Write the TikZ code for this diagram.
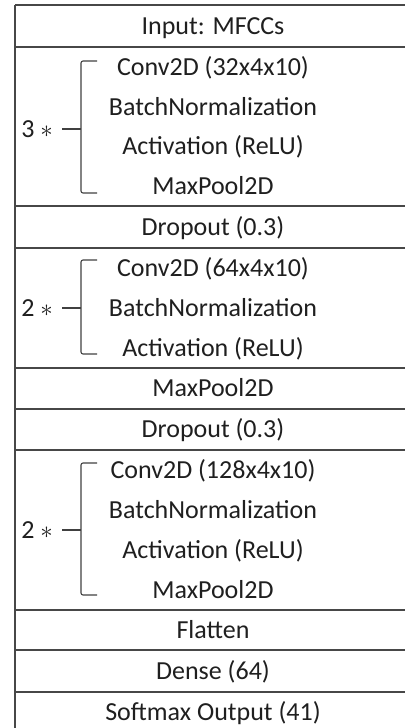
\documentclass[tikz,border=0pt]{standalone}
\usepackage{fontspec}
\setmainfont{Carlito}
\usetikzlibrary{calc}

\begin{document}
\begin{tikzpicture}[
        x=1pt, y=-1pt,
        row line/.style={line width=1.4pt, draw=black!72},
        layer/.style={font=\fontsize{26}{30}\selectfont, text=black!88, inner sep=0pt, anchor=base},
        repeat label/.style={font=\fontsize{26}{30}\selectfont, text=black!88, inner sep=0pt, anchor=base east},
        bracket/.style={line width=1.1pt, draw=black!75, rounded corners=2pt}
    ]
    \useasboundingbox (0,0) rectangle (405,728);

    % table frame: left border and row separators
    \draw[row line] (15,5) -- (15,728);
    \foreach \y in {5,47,206,248,368,409,450,610,650,692} {
        \draw[row line] (15,\y) -- (405,\y);
    }

    % layers
    \foreach \y/\name/\txt in {
        26/in/{Input: MFCCs},
        67/caA/{Conv2D (32x4x10)},
        107/bnA/{BatchNormalization},
        146.5/acA/{Activation (ReLU)},
        186/mpA/{MaxPool2D},
        227/drA/{Dropout (0.3)},
        268/caB/{Conv2D (64x4x10)},
        308/bnB/{BatchNormalization},
        348/acB/{Activation (ReLU)},
        388.5/mpB/{MaxPool2D},
        429.5/drB/{Dropout (0.3)},
        470/caC/{Conv2D (128x4x10)},
        510/bnC/{BatchNormalization},
        550/acC/{Activation (ReLU)},
        590/mpC/{MaxPool2D},
        630/fl/{Flatten},
        671/de/{Dense (64)},
        712/so/{Softmax Output (41)}} {
        \node[layer] (\name) at (213,\y+8) {\txt};
    }

    % repeated blocks
    \foreach \g/\n/\top/\bot/\mid in {A/3/61/193/129, B/2/260/354/308, C/2/463/595/530} {
        \coordinate (b\g t) at (81,\top);
        \coordinate (b\g b) at (81,\bot);
        \coordinate (b\g m) at (81,\mid);
        \node[repeat label] (rep\g) at (53,\mid+8) {\n\ $\ast$};
        \draw[bracket] ($(b\g t)+(16,0)$) -- (b\g t) -- (b\g b) -- ++(16,0);
        \draw[bracket] ([xshift=9pt]rep\g.east |- b\g m) -- (b\g m);
    }
\end{tikzpicture}
\end{document}
